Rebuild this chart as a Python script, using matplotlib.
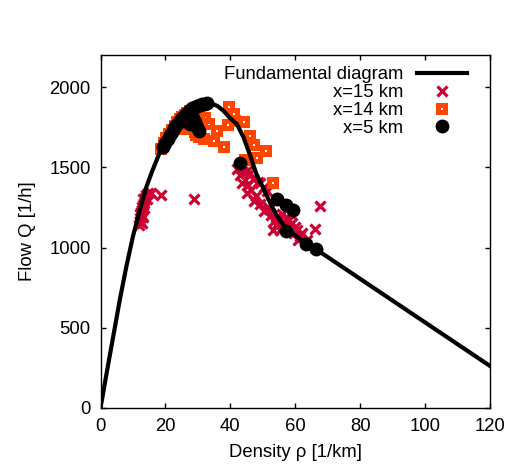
import matplotlib
matplotlib.use("Agg")
import matplotlib.pyplot as plt
from matplotlib.path import Path
import numpy as np

# Fundamental diagram curve
fd_rho = [0, 2, 4, 6, 8, 10, 12, 14, 16, 18, 20, 22, 24, 26, 28, 30, 32, 34, 36,
          38, 40, 42, 44, 46, 48, 50, 52, 54, 56, 58, 60, 62, 64, 120]
fd_q = [0, 230, 455, 680, 885, 1070, 1225, 1370, 1480, 1580, 1660, 1725, 1780,
        1825, 1860, 1885, 1897, 1898, 1883, 1850, 1805, 1770, 1690, 1580, 1460,
        1375, 1290, 1210, 1150, 1108, 1075, 1045, 1022, 262]

# x=15 km (red crosses)
x15_rho = [12.0, 12.3, 12.1, 12.6, 12.4, 12.9, 12.7, 13.1, 13.4, 13.2, 13.7, 14.0,
           14.5, 15.6, 12.8, 13.0, 12.2, 13.5, 14.2, 18.5, 28.7,
           42.0, 43.1, 44.0, 45.0, 46.2, 44.5, 43.5, 45.5, 47.0, 48.5, 49.2, 50.5,
           51.3, 45.1, 46.5, 47.2, 48.0, 49.0, 50.3, 51.5, 52.5, 53.3, 54.5, 55.4,
           56.5, 57.4, 58.5, 55.4, 53.1, 59.0, 60.5, 61.5, 62.0, 63.6, 66.2, 67.5,
           57.0, 59.5, 56.0, 60.0, 54.0, 52.0, 61.0, 58.0]
x15_q = [1140, 1165, 1185, 1200, 1220, 1235, 1250, 1265, 1280, 1300, 1310, 1325,
         1340, 1340, 1155, 1190, 1210, 1245, 1300, 1325, 1300,
         1490, 1450, 1470, 1480, 1467, 1420, 1400, 1390, 1430, 1410, 1404, 1380,
         1352, 1342, 1360, 1290, 1320, 1270, 1227, 1250, 1200, 1165, 1190, 1185,
         1160, 1133, 1217, 1112, 1112, 1150, 1112, 1071, 1090, 1050, 1117, 1262,
         1180, 1090, 1210, 1130, 1140, 1240, 1050, 1170]

# x=14 km (orange squares)
x14_rho = [18.5, 19.5, 20.3, 21.2, 22.0, 22.8, 23.6, 24.4, 25.2, 26.0, 26.8, 27.6,
           23.6, 24.6, 26.2, 28.0, 29.0, 29.5, 30.5,
           30.3, 32.3, 33.3, 35.9, 31.8, 34.9, 37.9, 39.5, 41.0, 39.2, 41.5, 44.3,
           46.2, 47.2, 51.1, 48.2, 44.4, 53.1]
x14_q = [1615, 1650, 1680, 1710, 1735, 1760, 1785, 1800, 1815, 1828, 1840, 1850,
         1737, 1775, 1737, 1760, 1720, 1700, 1690,
         1821, 1810, 1769, 1724, 1677, 1665, 1629, 1873, 1831, 1762, 1790, 1785,
         1696, 1640, 1602, 1560, 1544, 1400]

# x=5 km (black dots)
x5_rho = [19.3, 20.0, 20.7, 21.3, 22.0, 22.7, 23.4, 24.1, 24.8, 25.5, 26.2, 26.9,
          27.6, 28.3, 29.0, 29.8, 30.6, 31.4, 32.2, 32.8,
          26.0, 27.7, 29.2, 29.7, 30.3, 28.5,
          42.9, 54.4, 57.2, 59.3, 57.2, 63.4, 66.5]
x5_q = [1625, 1650, 1675, 1700, 1722, 1745, 1765, 1785, 1800, 1815, 1830, 1845,
        1858, 1868, 1876, 1883, 1888, 1892, 1896, 1898,
        1790, 1770, 1780, 1750, 1725, 1805,
        1525, 1300, 1268, 1233, 1102, 1019, 992]

x_ticks = [0, 20, 40, 60, 80, 100, 120]
y_ticks = [0, 500, 1000, 1500, 2000]

plt.rcParams['font.family'] = ['Liberation Sans', 'DejaVu Sans']
FS = 13.3

fig = plt.figure(figsize=(5.11, 4.67), dpi=100)
ax = fig.add_axes([100.5/511, (467-408)/467, 389.5/511, (408-55)/467])

# square marker with a small hole
outer = [(-1, -1), (1, -1), (1, 1), (-1, 1), (-1, -1)]
inner = [(-0.15, -0.15), (-0.15, 0.15), (0.15, 0.15), (0.15, -0.15), (-0.15, -0.15)]
verts = outer + inner
codes = [Path.MOVETO] + [Path.LINETO]*3 + [Path.CLOSEPOLY] + \
        [Path.MOVETO] + [Path.LINETO]*3 + [Path.CLOSEPOLY]
sq_marker = Path(verts, codes)

red = '#CC0033'
orange = '#FF4500'

l_fd, = ax.plot(fd_rho, fd_q, color='black', lw=3, zorder=3,
                label='Fundamental diagram')
l15, = ax.plot(x15_rho, x15_q, ls='none', marker='x', ms=7.5, mew=2.3,
               color=red, zorder=2, label='x=15 km')
l14, = ax.plot(x14_rho, x14_q, ls='none', marker=sq_marker, ms=8.5, mew=0,
               color=orange, zorder=2.5, label='x=14 km')
l5, = ax.plot(x5_rho, x5_q, ls='none', marker='o', ms=10, mew=0,
              color='black', zorder=4, label='x=5 km')

ax.set_xlim(0, 120)
ax.set_ylim(0, 2200)
ax.set_xticks(x_ticks)
ax.set_yticks(y_ticks)
ax.tick_params(direction='in', length=3.6, width=1, top=True, right=True,
               labelsize=FS, pad=7)
for s in ax.spines.values():
    s.set_linewidth(1)

ax.set_xlabel('Density ρ [1/km]', fontsize=FS, labelpad=7)
ax.set_ylabel('Flow Q [1/h]', fontsize=FS, labelpad=10)

leg = ax.legend(handles=[l_fd, l15, l14, l5], loc='upper right',
                bbox_to_anchor=(0.975, 1.005), frameon=False, markerfirst=False,
                fontsize=FS, handlelength=2.7, handletextpad=0.75,
                labelspacing=0.05, borderpad=0.2)

fig.savefig('out.png', dpi=100)
